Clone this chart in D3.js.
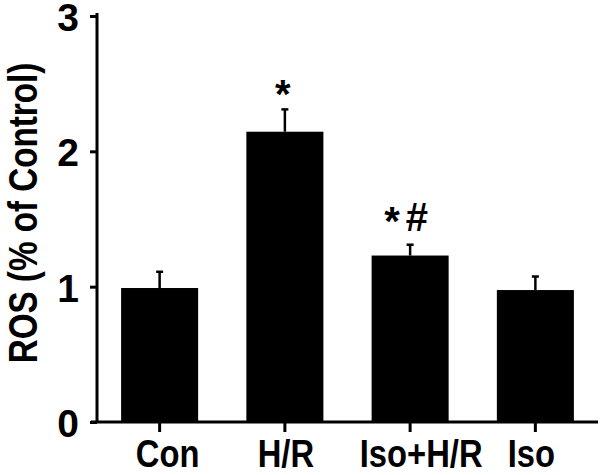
<!DOCTYPE html>
<html lang="en">
<head>
  <meta charset="UTF-8">
  <title>ROS (% of Control)</title>
  <style>
    body {
      margin: 0;
      background: #fff;
    }
    svg {
      display: block;
      font-family: "Liberation Sans", Arial, sans-serif;
      font-weight: bold;
    }
  </style>
</head>
<body>
  <svg width="600" height="475"></svg>

  <script src="https://d3js.org/d3.v7.min.js"></script>
  <script>
    // Data
    const groups = ["Con", "H/R", "Iso+H/R", "Iso"];
    const means = [0.99, 2.145, 1.23, 0.975];
    const errors = [0.12, 0.165, 0.08, 0.10];
    const marks = ["", "*", "*#", ""];
    const yTicks = [0, 1, 2, 3];

    const svg = d3.select("svg");

    // axis frame (left edge of y axis, baseline, top)
    const x0 = 97, x1 = 598, yBase = 422, yTop = 16;

    const x = d3.scaleBand()
      .domain(groups)
      .range([x0, x1])
      .paddingInner(0.385)
      .paddingOuter(0.1925);

    const y = d3.scaleLinear()
      .domain([0, 3])
      .range([yBase, yTop]);

    // bars
    svg.append("g")
      .selectAll("rect")
      .data(groups)
      .join("rect")
      .attr("x", d => x(d))
      .attr("y", (d, i) => y(means[i]))
      .attr("width", x.bandwidth())
      .attr("height", (d, i) => yBase - y(means[i]))
      .attr("fill", "#000");

    // error bars (upper only, small cap)
    const err = svg.append("g")
      .attr("stroke", "#000")
      .attr("stroke-width", 2.5);

    groups.forEach((g, i) => {
      const cx = x(g) + x.bandwidth() / 2;
      err.append("line")
        .attr("x1", cx).attr("x2", cx)
        .attr("y1", y(means[i])).attr("y2", y(means[i] + errors[i]));
      err.append("line")
        .attr("x1", cx - 3.5).attr("x2", cx + 3.5)
        .attr("y1", y(means[i] + errors[i])).attr("y2", y(means[i] + errors[i]));
    });

    // significance marks; a lone star sits lower, close to its error bar
    const markText = svg.append("g")
      .selectAll("text")
      .data(groups)
      .join("text")
      .attr("x", d => x(d) + x.bandwidth() / 2 - 2)
      .attr("y", (d, i) => y(means[i] + errors[i]) - (marks[i].length > 1 ? 14 : 1))
      .attr("text-anchor", "middle")
      .attr("font-size", 40);

    markText.each(function(d, i) {
      const t = d3.select(this);
      marks[i].split("").forEach((c, k) => {
        const sp = t.append("tspan").text(c);
        if (c === "*" && marks[i].length > 1) sp.attr("dy", 4).attr("dx", -2);
        if (c !== "*" && k > 0) sp.attr("dy", -4).attr("dx", 6);
      });
    });

    // y axis
    const yAxis = svg.append("g")
      .attr("transform", `translate(${x0},0)`)
      .call(d3.axisLeft(y).tickValues(yTicks).tickFormat(d3.format("d")).tickSize(7).tickPadding(11));

    yAxis.select(".domain")
      .attr("d", `M0,${yBase}V${yTop - 3}`)
      .attr("stroke-width", 3);
    yAxis.selectAll(".tick line").attr("stroke-width", 3);
    yAxis.selectAll(".tick text")
      .attr("font-size", 39)
      .attr("font-family", "inherit")
      .attr("fill", "#000")
      .attr("dy", "0.37em");

    // x axis
    const xAxis = svg.append("g")
      .attr("transform", `translate(0,${yBase})`)
      .call(d3.axisBottom(x).tickSize(10).tickSizeOuter(0));

    xAxis.select(".domain")
      .attr("d", `M${x0 - 6},0H${x1}`)
      .attr("stroke-width", 3);
    xAxis.selectAll(".tick line").attr("stroke-width", 3);

    // x labels drawn condensed like the original figure, nudged as in the figure
    const labelNudge = { "Con": 8, "H/R": 1, "Iso+H/R": 11, "Iso": -4 };
    xAxis.selectAll(".tick text").remove();
    xAxis.selectAll(".tick")
      .append("text")
      .attr("transform", d => `translate(${labelNudge[d]},45) scale(0.84,1)`)
      .attr("text-anchor", "middle")
      .attr("font-size", 39)
      .attr("fill", "#000")
      .text(d => d);

    // y title
    svg.append("text")
      .attr("transform", "translate(37,213) rotate(-90) scale(0.81,1)")
      .attr("text-anchor", "middle")
      .attr("font-size", 41)
      .text("ROS (% of Control)");
  </script>
</body>
</html>
